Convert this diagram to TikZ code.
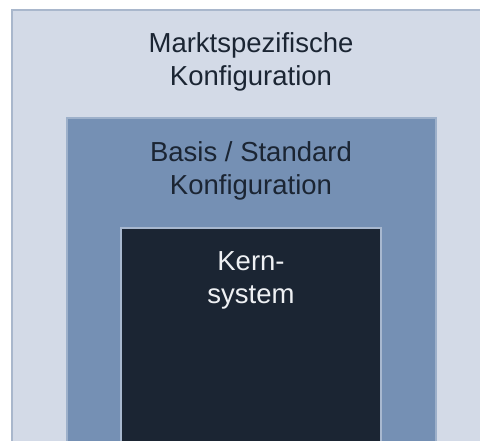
\documentclass[tikz,border=0pt]{standalone}
\usepackage{fontspec}
\setmainfont{Liberation Sans}
\usetikzlibrary{positioning}
\definecolor{outerfill}{HTML}{D3DAE7}
\definecolor{outerline}{HTML}{A9B7CC}
\definecolor{midfill}{HTML}{7590B4}
\definecolor{midline}{HTML}{9DB0CA}
\definecolor{kernfill}{HTML}{1B2533}
\definecolor{kernline}{HTML}{A8B8CF}
\definecolor{textdark}{HTML}{1B2533}
\definecolor{textlight}{HTML}{EEF0F3}

\begin{document}
\begin{tikzpicture}[x=1pt,y=-1pt, every node/.style={font=\fontsize{27.5}{33}\selectfont, align=center, inner sep=0pt},
  layer/.style={line width=2pt}]
  \useasboundingbox (0,0) rectangle (480,441);
  \clip (0,0) rectangle (480,441);
  \fill[white] (0,0) rectangle (480,441);
  \foreach \x/\y/\w/\fc/\lc in {12/10/480/outerfill/outerline, 67/118/369/midfill/midline, 121/228/260/kernfill/kernline}{
    \draw[layer, draw=\lc, fill=\fc] (\x,\y) rectangle ++(\w,500);
  }
  \node[text=textdark] (markt) at (251,62) {Marktspezifische\\Konfiguration};
  \node[text=textdark] (basis) at (251,171) {Basis / Standard\\Konfiguration};
  \node[text=textlight] (kern) at (251,280) {Kern-\\system};
\end{tikzpicture}
\end{document}
